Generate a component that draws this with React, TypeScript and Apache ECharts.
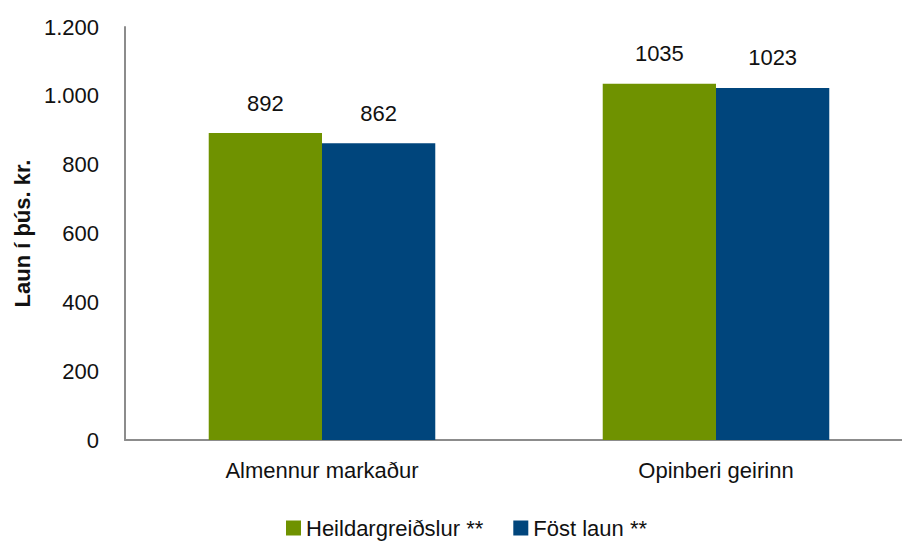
import React, { useEffect, useRef } from "react";
import * as echarts from "echarts";

const categories = ["Almennur markaður", "Opinberi geirinn"];
const seriesNames = ["Heildargreiðslur **", "Föst laun **"];
const heildar = [892, 1035];
const fost = [862, 1023];
const yTicks = [0, 200, 400, 600, 800, 1000, 1200];

const FONT = "'Liberation Sans', Arial, sans-serif";
const FS = 22;

export default function App() {
  const ref = useRef<HTMLDivElement>(null);
  useEffect(() => {
    if (!ref.current) return;
    const chart = echarts.init(ref.current, undefined, { renderer: "svg" });
    const fmt = (v: number) => v.toLocaleString("de-DE");
    chart.setOption({
      animation: false,
      backgroundColor: "#ffffff",
      textStyle: { fontFamily: FONT },
      grid: { left: 125, right: -11, top: 27, bottom: 103, outerBoundsMode: "none", containLabel: false },
      legend: {
        top: 512,
        left: 281,
        itemWidth: 15,
        itemHeight: 15,
        itemGap: 30,
        icon: "rect",
        textStyle: { fontFamily: FONT, fontSize: FS, color: "#111" },
        data: seriesNames,
      },
      xAxis: {
        type: "category",
        data: categories,
        axisLine: { lineStyle: { color: "#8c8c8c", width: 2 } },
        axisTick: { show: false },
        axisLabel: { fontFamily: FONT, fontSize: FS, color: "#111", margin: 19 },
      },
      yAxis: {
        type: "value",
        min: yTicks[0],
        max: yTicks[yTicks.length - 1],
        interval: 200,
        name: "Laun í þús. kr.",
        nameLocation: "middle",
        nameGap: 91,
        nameTextStyle: { fontFamily: FONT, fontSize: FS, fontWeight: "bold", color: "#111" },
        axisLine: { show: true, lineStyle: { color: "#8c8c8c", width: 2 } },
        axisTick: { show: false },
        splitLine: { show: false },
        axisLabel: { fontFamily: FONT, fontSize: FS, color: "#111", margin: 26, formatter: fmt },
      },
      series: [
        {
          name: seriesNames[0],
          type: "bar",
          data: heildar,
          barGap: "0%",
          barCategoryGap: "42.5%",
          itemStyle: { color: "#6F9200" },
          label: { show: true, position: "top", distance: 19, fontFamily: FONT, fontSize: FS, color: "#111" },
        },
        {
          name: seriesNames[1],
          type: "bar",
          data: fost,
          itemStyle: { color: "#00457C" },
          label: { show: true, position: "top", distance: 19, fontFamily: FONT, fontSize: FS, color: "#111" },
        },
      ],
    });
    return () => chart.dispose();
  }, []);
  return <div ref={ref} style={{ position: "fixed", left: 0, top: 0, width: 902, height: 543 }} />;
}
